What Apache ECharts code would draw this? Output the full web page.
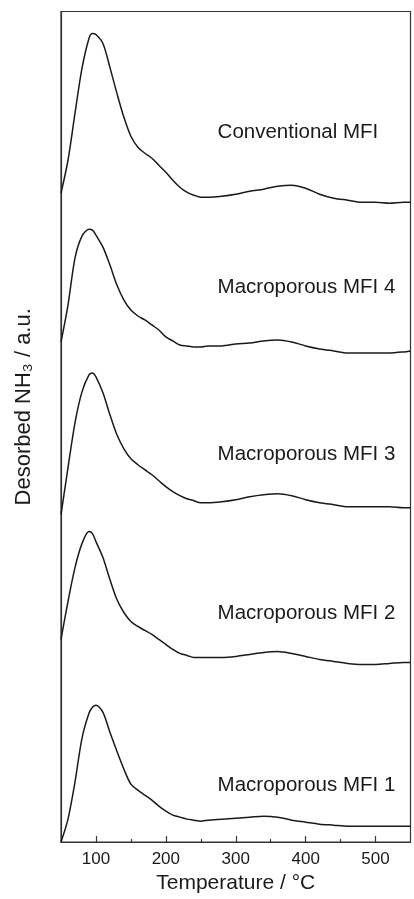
<!DOCTYPE html>
<html>
<head>
<meta charset="utf-8">
<script src="https://cdn.jsdelivr.net/npm/echarts@6/dist/echarts.min.js"></script>
<style>
  html, body { margin: 0; padding: 0; background: #fff; }
  #chart { width: 414px; height: 899px; }
</style>
</head>
<body>
<div id="chart"></div>
<script>
// temperature points (°C)
const temps = [50, 60, 70, 80, 90, 95, 100, 110, 120, 130, 140, 150, 160, 170, 180, 190, 200, 210, 220, 230, 240, 250, 260,
  280, 300, 320, 340, 360, 380, 400, 420, 440, 460, 480, 500, 520, 540, 550]

// desorbed NH3 signal, curves already stacked (a.u.)
const conventional = [650, 683, 730, 775, 805, 810, 809, 800, 776, 750, 726, 707, 696, 690, 685, 678, 671, 663, 656, 651, 648, 646, 646,
  647, 649, 652, 654, 657, 658, 655, 649, 645, 643, 641, 641, 640, 641, 641]
const macro4 = [501, 538, 585, 607, 614, 613, 608, 596, 578, 558, 543, 533, 527, 523, 518, 513, 506, 502, 498, 497, 496, 496, 497,
  497, 499, 500, 502, 503, 501, 497, 494, 492, 490, 490, 490, 490, 491, 492]
const macro3 = [328, 375, 420, 451, 468, 470, 466, 450, 428, 408, 394, 384, 378, 373, 368, 362, 356, 351, 347, 344, 342, 340, 340,
  341, 343, 346, 348, 349, 347, 343, 340, 338, 336, 336, 336, 336, 335, 335]
const macro2 = [203, 241, 275, 299, 311, 309, 301, 285, 263, 243, 230, 221, 216, 212, 208, 203, 198, 193, 189, 187, 185, 185, 185,
  185, 186, 188, 190, 191, 189, 186, 183, 181, 179, 178, 178, 179, 180, 180]
const macro1 = [0, 23, 60, 104, 129, 135, 137, 130, 110, 91, 73, 58, 52, 47, 42, 36, 31, 27, 25, 23, 22, 21, 22,
  23, 24, 25, 26, 25, 22, 20, 18, 17, 16, 16, 16, 16, 16, 16]

const seriesNames = ['Conventional MFI', 'Macroporous MFI 4', 'Macroporous MFI 3', 'Macroporous MFI 2', 'Macroporous MFI 1']
const seriesValues = [conventional, macro4, macro3, macro2, macro1]

// x axis ticks
const majorTicks = [100, 200, 300, 400, 500]
const minorTicks = [150, 250, 350, 450]

// where the curve names sit (data coords)
const labelT = 274
const labelY = [711, 556, 388, 229, 57]

const font = "'Liberation Sans', Arial, sans-serif"
const ink = '#1a1a1a'

let chart = echarts.init(document.getElementById('chart'))

let series = seriesValues.map((vals, i) => {
  return {
    name: seriesNames[i],
    type: 'line',
    data: temps.map((t, j) => [t, vals[j]]),
    showSymbol: false,
    smooth: 0.3,
    lineStyle: { color: ink, width: 1.5 },
    silent: true,
    markPoint: {
      symbol: 'circle',
      symbolSize: 0,
      silent: true,
      data: [{ coord: [labelT, labelY[i]] }],
      label: {
        show: true,
        position: 'right',
        distance: 0,
        formatter: seriesNames[i],
        color: ink,
        fontFamily: font,
        fontSize: 20.5
      }
    }
  }
})

let option = {
  animation: false,
  backgroundColor: '#fff',
  grid: {
    left: 61, right: 3.5, top: 11.5, bottom: 55.5,
    show: true,
    borderColor: '#333',
    borderWidth: 1.2
  },
  xAxis: [
    {
      type: 'value',
      min: 50,
      max: 550,
      splitLine: { show: false },
      axisLine: { lineStyle: { color: '#333', width: 1.2 } },
      axisTick: { inside: true, length: 6, customValues: majorTicks, lineStyle: { color: '#333', width: 1.2 } },
      axisLabel: { customValues: majorTicks, color: ink, fontFamily: font, fontSize: 17, margin: 9 },
      name: 'Temperature / °C',
      nameLocation: 'middle',
      nameGap: 30,
      nameTextStyle: { color: ink, fontFamily: font, fontSize: 21 }
    },
    {
      type: 'value',
      position: 'bottom',
      min: 50,
      max: 550,
      splitLine: { show: false },
      axisLine: { show: false },
      axisTick: { inside: true, length: 3, customValues: minorTicks, lineStyle: { color: '#333', width: 1.2 } },
      axisLabel: { show: false }
    }
  ],
  yAxis: {
    type: 'value',
    min: 0,
    max: 832,
    splitLine: { show: false },
    axisLine: { show: true, lineStyle: { color: '#333', width: 1.2 } },
    axisTick: { show: false },
    axisLabel: { show: false },
    name: 'Desorbed NH₃ / a.u.',
    nameLocation: 'middle',
    nameGap: 26,
    nameTextStyle: { color: ink, fontFamily: font, fontSize: 22, padding: [0, 0, 0, 40] }
  },
  series: series
}

chart.setOption(option)
</script>
</body>
</html>
